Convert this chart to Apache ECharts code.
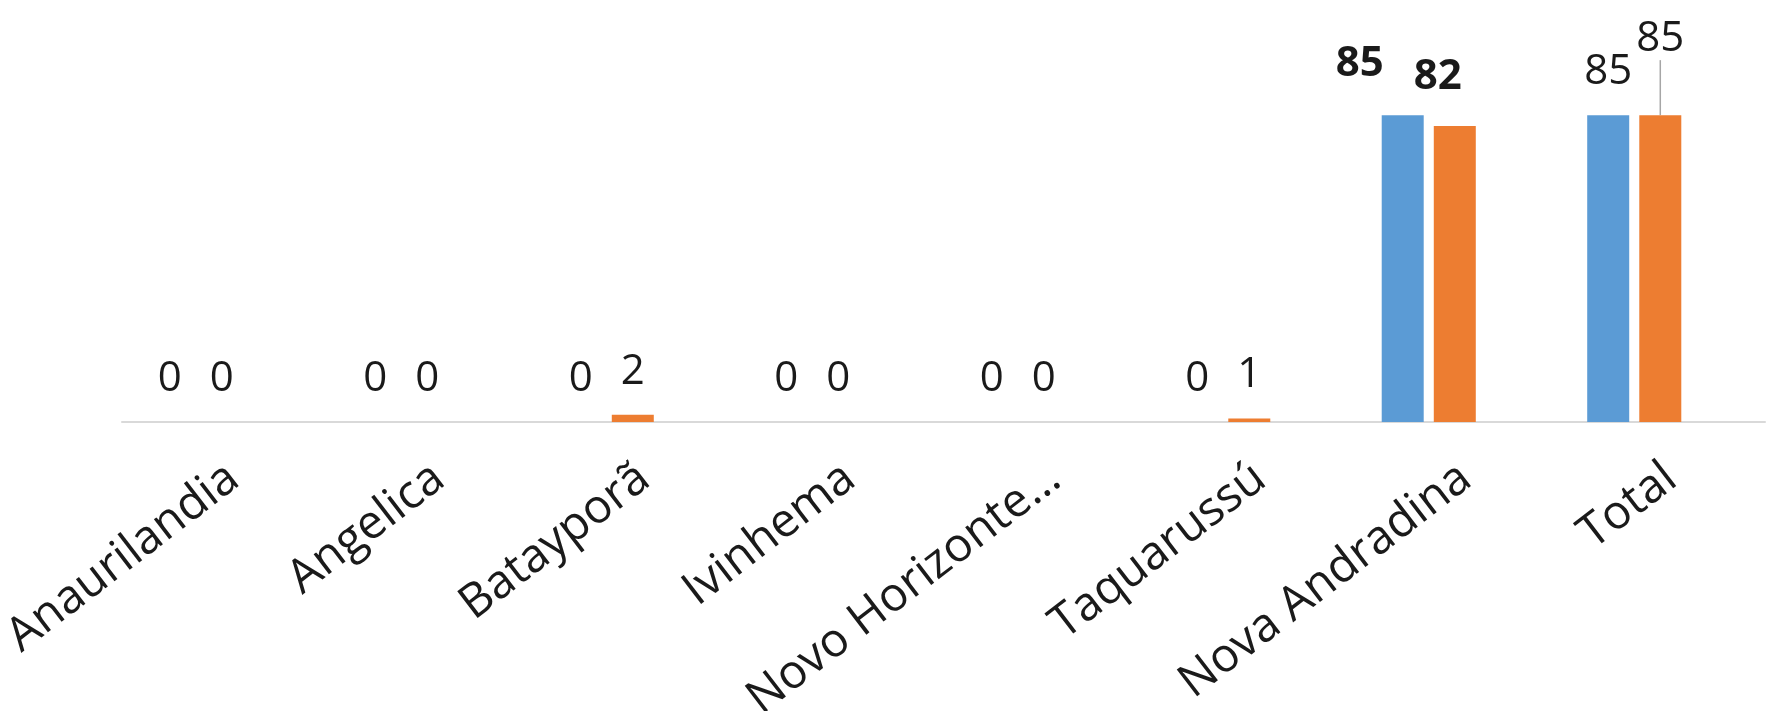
<!DOCTYPE html>
<html>
<head>
<meta charset="utf-8">
<script src="https://cdn.jsdelivr.net/npm/echarts@6/dist/echarts.min.js"></script>
<style>html,body{margin:0;padding:0;background:#fff}#c{width:1771px;height:711px}</style>
</head>
<body>
<div id="c"></div>
<script>
var categories = ['Anaurilandia', 'Angelica', 'Batayporã', 'Ivinhema', 'Novo Horizonte…', 'Taquarussú', 'Nova Andradina', 'Total'];
var seriesBlue = [0, 0, 0, 0, 0, 0, 85, 85];
var seriesOrange = [0, 0, 2, 0, 0, 1, 82, 85];

var FONT = '"Open Sans"';
var chart = echarts.init(document.getElementById('c'), null, {renderer: 'canvas'});

function makeData(vals, which) {
  return vals.map(function (v, i) {
    var item = {value: v};
    if (categories[i] === 'Nova Andradina') {
      item.label = {fontWeight: 'bold'};
    }
    if (which === 'orange' && categories[i] === 'Total') {
      item.labelLine = {show: true, lineStyle: {color: '#a6a6a6', width: 1.5}};
    }
    return item;
  });
}

var labelBase = {
  show: true, position: 'top', distance: 22,
  fontFamily: FONT, fontSize: 42, color: '#1a1a1a'
};

chart.setOption({
  animation: false,
  grid: [
    {left: 93, right: 34, top: 61, bottom: 289, containLabel: false, outerBoundsMode: 'none'},
    {left: 122, right: 6, top: 61, bottom: 289, containLabel: false, outerBoundsMode: 'none'},
    {left: 131, right: -3, top: 61, bottom: 289, containLabel: false, outerBoundsMode: 'none'}
  ],
  xAxis: [
    {type: 'category', gridIndex: 0, data: categories,
      axisLine: {show: false}, axisTick: {show: false}, axisLabel: {show: false}},
    {type: 'category', gridIndex: 1, data: categories,
      axisLine: {show: true, lineStyle: {color: '#d9d9d9', width: 2}},
      axisTick: {show: false}, axisLabel: {show: false}},
    {type: 'category', gridIndex: 2, data: categories,
      axisLine: {show: false}, axisTick: {show: false},
      axisLabel: {show: true, interval: 0, rotate: 37.5, margin: 51,
        fontFamily: FONT, fontSize: 47, color: '#1a1a1a'}}
  ],
  yAxis: [
    {type: 'value', gridIndex: 0, min: 0, max: 100, show: false},
    {type: 'value', gridIndex: 1, min: 0, max: 100, show: false},
    {type: 'value', gridIndex: 2, min: 0, max: 100, show: false}
  ],
  series: [
    {type: 'bar', name: 'A', xAxisIndex: 0, yAxisIndex: 0, data: makeData(seriesBlue, 'blue'),
      barWidth: 42, barGap: '24%', itemStyle: {color: '#5b9bd5'},
      label: labelBase,
      labelLayout: function (p) {
        if (categories[p.dataIndex] === 'Nova Andradina') return {dx: -43, dy: -8};
        return {};
      }},
    {type: 'bar', name: 'B', xAxisIndex: 0, yAxisIndex: 0, data: makeData(seriesOrange, 'orange'),
      barWidth: 42, barGap: '24%', itemStyle: {color: '#ed7d31'},
      label: labelBase,
      labelLayout: function (p) {
        if (categories[p.dataIndex] === 'Nova Andradina') return {dx: -17, dy: -6};
        if (categories[p.dataIndex] === 'Total') return {dy: -33};
        return {};
      }}
  ]
});
</script>
</body>
</html>
